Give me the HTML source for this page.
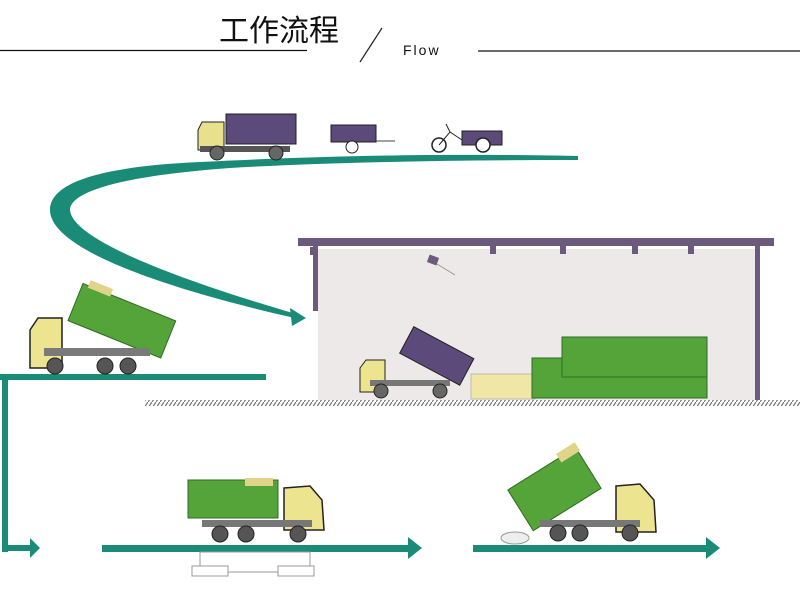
<!DOCTYPE html>
<html><head><meta charset="utf-8"><style>
html,body{margin:0;padding:0;background:#fff;width:800px;height:600px;overflow:hidden}
svg{display:block}
</style></head><body>
<svg width="800" height="600" viewBox="0 0 800 600" xmlns="http://www.w3.org/2000/svg">
<defs>
<pattern id="hatch" width="4" height="6" patternUnits="userSpaceOnUse"><rect width="4" height="6" fill="#fff"/><line x1="0" y1="6" x2="4" y2="0" stroke="#777" stroke-width="1.2"/></pattern>
</defs>
<!-- header -->
<line x1="0" y1="50.5" x2="307" y2="50.5" stroke="#111" stroke-width="1.2"/>
<line x1="478" y1="51" x2="800" y2="51" stroke="#111" stroke-width="1.2"/>
<text x="219" y="41" font-family="'Noto Sans CJK SC',sans-serif" font-size="30" fill="#111">工作流程</text>
<line x1="382" y1="28" x2="360" y2="62" stroke="#222" stroke-width="1.2"/>
<text x="403" y="55" font-family="'Liberation Sans',sans-serif" font-size="14" letter-spacing="2" fill="#111">Flow</text>

<!-- building -->
<rect x="318" y="249" width="438" height="152" fill="#ece9e8"/>
<rect x="298" y="238" width="476" height="8" fill="#6c5a7c"/>
<rect x="313" y="246" width="5" height="65" fill="#6c5a7c"/>
<rect x="755" y="246" width="5" height="155" fill="#6c5a7c"/>
<rect x="310" y="247" width="8" height="8" fill="#6c5a7c"/>
<rect x="490" y="246" width="6" height="8" fill="#6c5a7c"/>
<rect x="560" y="246" width="6" height="8" fill="#6c5a7c"/>
<rect x="632" y="246" width="6" height="8" fill="#6c5a7c"/>
<rect x="688" y="246" width="6" height="8" fill="#6c5a7c"/>
<rect x="428" y="256" width="10" height="8" fill="#6c5a7c" transform="rotate(20 433 260)"/>
<line x1="437" y1="264" x2="455" y2="275" stroke="#999" stroke-width="1"/>
<rect x="145" y="400" width="655" height="6" fill="url(#hatch)"/>

<!-- teal connectors -->
<path d="M200,162 C360,154 470,154 578,156 L578,160 C460,160 330,162 230,168 C120,176 70,192 70,210 C72,240 180,280 296,314 L295,318 C170,290 50,250 50,210 C50,180 110,166 200,162 Z" fill="#1a8b76"/>
<polygon points="290,308 306,318 292,326" fill="#1a8b76"/>
<rect x="0" y="374" width="266" height="6" fill="#1a8b76"/>
<rect x="2" y="374" width="6" height="178" fill="#1a8b76"/>
<rect x="2" y="545" width="30" height="6" fill="#1a8b76"/>
<polygon points="30,538 40,548 30,558" fill="#1a8b76"/>
<rect x="102" y="545" width="308" height="7" fill="#1a8b76"/>
<polygon points="408,537 422,548 408,559" fill="#1a8b76"/>
<rect x="473" y="545" width="235" height="7" fill="#1a8b76"/>
<polygon points="706,537 720,548 706,559" fill="#1a8b76"/>

<!-- top vehicles -->
<g>
<rect x="226" y="114" width="70" height="30" fill="#5b4a7a" stroke="#222"/>
<path d="M198,130 L202,122 L224,122 L224,150 L198,150 Z" fill="#e8e08a" stroke="#222"/>
<rect x="200" y="146" width="90" height="6" fill="#555"/>
<circle cx="217" cy="153" r="7" fill="#666" stroke="#222"/>
<circle cx="276" cy="153" r="7" fill="#666" stroke="#222"/>
<rect x="331" y="125" width="45" height="17" fill="#5b4a7a" stroke="#222"/>
<line x1="376" y1="141" x2="395" y2="141" stroke="#444"/>
<circle cx="352" cy="147" r="6" fill="#fff" stroke="#222"/>
<rect x="462" y="131" width="40" height="14" fill="#5b4a7a" stroke="#222"/>
<circle cx="439" cy="145" r="7" fill="none" stroke="#222" stroke-width="1.5"/>
<circle cx="483" cy="145" r="7" fill="#fff" stroke="#222" stroke-width="1.5"/>
<path d="M439,145 L450,132 L462,140 M446,124 L450,132" stroke="#222" fill="none"/>
</g>

<!-- left tilted truck -->
<g>
<g transform="rotate(22 120 320)">
<rect x="72" y="300" width="100" height="40" fill="#55a43a" stroke="#2d6b22"/>
<rect x="78" y="294" width="24" height="8" fill="#e0d48a"/>
</g>
<path d="M30,330 L38,318 L62,318 L62,368 L30,368 Z" fill="#ece48e" stroke="#222" stroke-width="1.5"/>
<rect x="44" y="348" width="106" height="8" fill="#7a7a7a"/>
<circle cx="55" cy="366" r="8" fill="#555" stroke="#222"/>
<circle cx="105" cy="366" r="8" fill="#555" stroke="#222"/>
<circle cx="128" cy="366" r="8" fill="#555" stroke="#222"/>
</g>

<!-- building trucks -->
<g>
<g transform="rotate(28 435 355)">
<rect x="403" y="340" width="68" height="30" fill="#5b4a7a" stroke="#222"/>
</g>
<path d="M360,368 L366,360 L385,360 L385,392 L360,392 Z" fill="#ece48e" stroke="#222"/>
<rect x="370" y="380" width="80" height="6" fill="#777"/>
<circle cx="381" cy="391" r="7" fill="#666" stroke="#222"/>
<circle cx="440" cy="391" r="7" fill="#666" stroke="#222"/>
<rect x="471" y="374" width="64" height="25" fill="#f0e7a6" stroke="#bba"/>
<rect x="532" y="358" width="175" height="40" fill="#55a43a" stroke="#2d6b22"/>
<rect x="562" y="337" width="145" height="40" fill="#55a43a" stroke="#2d6b22"/>
</g>

<!-- bottom middle truck -->
<g>
<rect x="188" y="480" width="90" height="38" fill="#55a43a" stroke="#2d6b22"/>
<rect x="245" y="478" width="28" height="8" fill="#e0d48a"/>
<path d="M284,488 L310,486 L322,500 L324,530 L284,530 Z" fill="#ece48e" stroke="#222" stroke-width="1.5"/>
<rect x="202" y="520" width="110" height="7" fill="#777"/>
<circle cx="220" cy="534" r="8" fill="#555" stroke="#222"/>
<circle cx="246" cy="534" r="8" fill="#555" stroke="#222"/>
<circle cx="298" cy="534" r="8" fill="#555" stroke="#222"/>
<rect x="200" y="552" width="110" height="20" fill="none" stroke="#999"/>
<rect x="192" y="566" width="36" height="10" fill="#fff" stroke="#999"/>
<rect x="278" y="566" width="36" height="10" fill="#fff" stroke="#999"/>
</g>

<!-- bottom right truck -->
<g>
<g transform="rotate(-32 555 490)">
<rect x="515" y="465" width="80" height="48" fill="#55a43a" stroke="#2d6b22"/>
<rect x="575" y="460" width="22" height="10" fill="#e0d48a"/>
</g>
<path d="M616,486 L640,484 L654,500 L656,532 L616,532 Z" fill="#ece48e" stroke="#222" stroke-width="1.5"/>
<rect x="540" y="520" width="100" height="7" fill="#777"/>
<circle cx="558" cy="533" r="8" fill="#555" stroke="#222"/>
<circle cx="580" cy="533" r="8" fill="#555" stroke="#222"/>
<circle cx="630" cy="533" r="8" fill="#555" stroke="#222"/>
<ellipse cx="515" cy="538" rx="14" ry="6" fill="#eee" stroke="#999"/>
</g>
</svg>
</body></html>
